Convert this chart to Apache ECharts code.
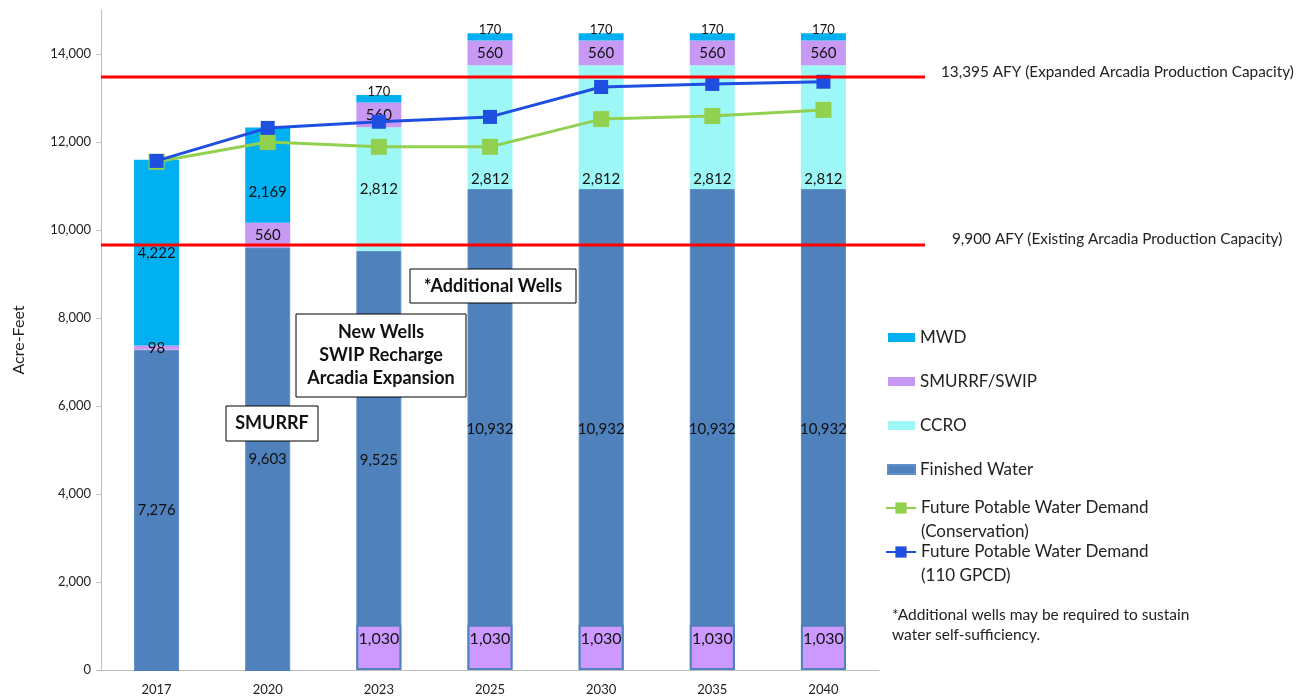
<!DOCTYPE html>
<html>
<head>
<meta charset="utf-8">
<script src="https://cdn.jsdelivr.net/npm/echarts@6/dist/echarts.min.js"></script>
<style>
  html, body { margin: 0; padding: 0; background: #fff; }
  #main { width: 1307px; height: 698px; }
</style>
</head>
<body>
<div id="main"></div>
<script>
// data
var years = ['2017', '2020', '2023', '2025', '2030', '2035', '2040']
var finishedWater = [7276, 9603, 9525, 10932, 10932, 10932, 10932]
var ccro = [0, 0, 2812, 2812, 2812, 2812, 2812]
var smurrfSwip = [98, 560, 560, 560, 560, 560, 560]
var mwd = [4222, 2169, 170, 170, 170, 170, 170]
var swipRecharge = [0, 0, 1030, 1030, 1030, 1030, 1030]
var demandConservation = [11550, 12000, 11890, 11890, 12520, 12590, 12730]
var demand110 = [11570, 12320, 12460, 12570, 13250, 13320, 13370]
var capacityLabels = ['13,395 AFY (Expanded Arcadia Production Capacity)', '9,900 AFY (Existing Arcadia Production Capacity)']
var capacityDrawnAt = [13480, 9660]

var FONT = 'Lato, "Open Sans", sans-serif'
var fmt = function (v) { return v.toLocaleString('en-US') }

var chart = echarts.init(document.getElementById('main'))

function barLabel (pos) {
  return { show: true, position: pos || 'inside', color: '#111', fontSize: 15, fontFamily: FONT,
    formatter: function (p) { return p.value ? fmt(p.value) : '' } }
}

var ccroData = ccro.map(function (v, i) {
  if (i >= 3) return { value: v, label: { position: 'insideBottom', distance: 2 } }
  return v
})
var mwdData = mwd.map(function (v, i) {
  if (i === 1) return { value: v, label: { offset: [0, 17] } }
  if (i >= 2) return { value: v, label: { position: 'top', distance: 0, fontSize: 13, offset: [0, 3] } }
  return v
})

// line legends: a blank first line keeps the icon level with the first text line
var lineLegend = function (top, name) {
  return {
    left: 885, top: top, padding: 0, orient: 'vertical', itemWidth: 30, itemHeight: 14, itemGap: 0,
    textStyle: { fontSize: 17, color: '#222', fontFamily: FONT, lineHeight: 24 },
    formatter: function (n) { return '\n' + n },
    data: [{ name: name }]
  }
}

chart.setOption({
  animation: false,
  textStyle: { fontFamily: FONT },
  grid: { left: 101, top: 10, width: 778, bottom: 28 },
  legend: [
    {
      left: 887, top: 329, padding: 0, orient: 'vertical', itemGap: 27, itemWidth: 27, itemHeight: 9,
      textStyle: { fontSize: 17, color: '#222', fontFamily: FONT },
      data: [
        { name: 'MWD', icon: 'rect' },
        { name: 'SMURRF/SWIP', icon: 'rect' },
        { name: 'CCRO', icon: 'rect' },
        { name: 'Finished Water', icon: 'rect' }
      ]
    },
    lineLegend(472, 'Future Potable Water Demand\n(Conservation)'),
    lineLegend(516, 'Future Potable Water Demand\n(110 GPCD)')
  ],
  xAxis: {
    type: 'category', data: years,
    axisLine: { lineStyle: { color: '#BFBFBF' } },
    axisTick: { lineStyle: { color: '#BFBFBF' }, length: 5 },
    axisLabel: { color: '#222', fontSize: 13, margin: 13, fontFamily: FONT }
  },
  yAxis: {
    type: 'value', min: 0, max: 15000, interval: 2000,
    name: 'Acre-Feet', nameLocation: 'middle', nameGap: 74,
    nameTextStyle: { fontSize: 16, color: '#222', fontFamily: FONT },
    axisLine: { show: true, lineStyle: { color: '#BFBFBF' } },
    axisTick: { show: true, length: 5, lineStyle: { color: '#BFBFBF' } },
    splitLine: { show: false },
    axisLabel: { color: '#222', fontSize: 13, margin: 10, showMaxLabel: false, fontFamily: FONT,
      formatter: function (v) { return fmt(v) } }
  },
  series: [
    { name: 'Finished Water', type: 'bar', stack: 'supply', barWidth: 45, barGap: '-100%',
      itemStyle: { color: '#4F81BD', borderColor: '#5F8FC6', borderWidth: 1 },
      label: barLabel(), data: finishedWater },
    { name: 'CCRO', type: 'bar', stack: 'supply', barWidth: 45,
      itemStyle: { color: '#9EF7F7' }, label: barLabel(), data: ccroData },
    { name: 'SMURRF/SWIP', type: 'bar', stack: 'supply', barWidth: 45,
      itemStyle: { color: '#C898F5' }, label: barLabel(), data: smurrfSwip },
    { name: 'MWD', type: 'bar', stack: 'supply', barWidth: 45,
      itemStyle: { color: '#00B0F0' }, label: barLabel(), data: mwdData },
    { name: 'SWIP Recharge', type: 'bar', stack: 'recharge', barWidth: 45, barGap: '-100%',
      itemStyle: { color: '#CC99FF', borderColor: '#4F81BD', borderWidth: 2 },
      label: Object.assign(barLabel(), { offset: [0, -8], fontSize: 16 }), data: swipRecharge },
    { name: 'Future Potable Water Demand\n(Conservation)', type: 'line', data: demandConservation,
      symbol: 'rect', symbolSize: 16, lineStyle: { color: '#92D050', width: 3 },
      itemStyle: { color: '#92D050' }, z: 5 },
    { name: 'Future Potable Water Demand\n(110 GPCD)', type: 'line', data: demand110,
      symbol: 'rect', symbolSize: 14, lineStyle: { color: '#1F4FE0', width: 3 },
      itemStyle: { color: '#1F4FE0' }, z: 6 }
  ]
})

// capacity lines placed through the y scale, plus annotation boxes
var gridLeft = chart.convertToPixel({ xAxisIndex: 0 }, years[0]) - 55.6
var graphics = []
capacityDrawnAt.forEach(function (v, i) {
  var y = chart.convertToPixel({ yAxisIndex: 0 }, v)
  graphics.push({ type: 'line', z: 10, shape: { x1: gridLeft, y1: y, x2: 925, y2: y },
    style: { stroke: '#FF0000', lineWidth: 3 } })
  graphics.push({ type: 'text', z: 10, left: i === 0 ? 941 : 952, top: y - (i === 0 ? 12 : 13),
    style: { text: capacityLabels[i], font: '15.3px ' + FONT, fill: '#222' } })
})

function box (x, y, w, h, text) {
  graphics.push({ type: 'rect', z: 20, shape: { x: x, y: y, width: w, height: h },
    style: { fill: '#fff', stroke: '#000', lineWidth: 1 } })
  graphics.push({ type: 'text', z: 21, x: x + w / 2, y: y + h / 2,
    style: { text: text, font: 'bold 18px ' + FONT, fill: '#111', align: 'center', verticalAlign: 'middle', lineHeight: 23 } })
}
box(226, 406, 92, 35, 'SMURRF')
box(296, 314, 170, 83, 'New Wells\nSWIP Recharge\nArcadia Expansion')
box(410, 269, 166, 34, '*Additional Wells')

graphics.push({ type: 'text', left: 892, top: 605,
  style: { text: '*Additional wells may be required to sustain\nwater self-sufficiency.', font: '15.5px ' + FONT, fill: '#222', lineHeight: 20 } })

chart.setOption({ graphic: graphics })
</script>
</body>
</html>
